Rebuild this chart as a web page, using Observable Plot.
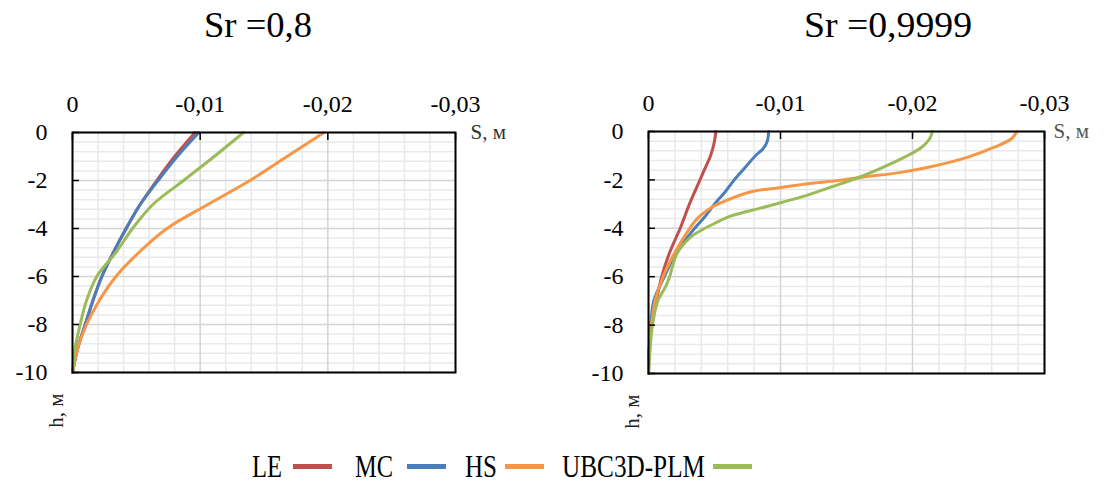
<!DOCTYPE html>
<html>
<head>
<meta charset="utf-8">
<script src="https://cdn.jsdelivr.net/npm/d3@7"></script>
<script src="https://cdn.jsdelivr.net/npm/@observablehq/plot@0.6"></script>
<style>
  html, body { margin:0; padding:0; background:#fff; }
  #page { position:relative; width:1112px; height:484px; overflow:hidden; font-family:'Liberation Serif','Times New Roman',Times,'DejaVu Serif',serif; color:#000; }
  .panel { position:absolute; top:80px; }
  #over { position:absolute; left:0; top:0; overflow:visible; }
  #over text { font-family:'Liberation Serif','Times New Roman',Times,'DejaVu Serif',serif; }
</style>
</head>
<body>
<div id="page">
  <div id="left" class="panel" style="left:0px"></div>
  <div id="right" class="panel" style="left:576px"></div>
  <svg id="over" width="1112" height="484"></svg>
</div>
<script>
// ---- Data ----
const models = ["LE", "MC", "HS", "UBC3D-PLM"];
const colors = ["#c0504d", "#4a7ebb", "#f79646", "#9bbb59"];
const titles = ["Sr =0,8", "Sr =0,9999"];

// Sr = 0,8  (depth h, м  →  settlement S, м)
const h08 = [0, -1, -2, -3, -4, -5, -6, -7, -8, -9, -10];
const LE_08  = [-0.0096, -0.0080, -0.0066, -0.0053, -0.0042, -0.0032, -0.0023, -0.0016, -0.0010, -0.0004, 0];
const MC_08  = [-0.0099, -0.0082, -0.0067, -0.0053, -0.0042, -0.0032, -0.0023, -0.0016, -0.0010, -0.0004, 0];
const HS_08  = [-0.0197, -0.0168, -0.0139, -0.0106, -0.0074, -0.0052, -0.0034, -0.0021, -0.0011, -0.0004, 0];
const UBC_08 = [-0.0134, -0.0111, -0.0087, -0.0063, -0.0047, -0.0034, -0.0019, -0.0011, -0.0006, -0.0002, 0];

// Sr = 0,9999
const hLE_1  = [0, -0.4, -1, -1.5, -2, -3, -4, -5, -6, -7, -8, -9, -10];
const LE_1   = [-0.0051, -0.0050, -0.0047, -0.0043, -0.0039, -0.0031, -0.0024, -0.0016, -0.0010, -0.0006, -0.00025, -0.00005, 0];
const hMC_1  = [0, -0.4, -0.7, -1, -1.5, -2, -2.5, -3, -3.5, -4, -5, -6, -7, -8, -9, -10];
const MC_1   = [-0.0091, -0.0090, -0.0087, -0.0081, -0.0073, -0.0065, -0.0058, -0.0050, -0.0043, -0.0035, -0.0021, -0.0012, -0.0004, -0.00017, -0.00005, 0];
const hHS_1  = [0, -0.3, -0.65, -1.06, -1.47, -1.7, -1.88, -2.02, -2.15, -2.3, -2.5, -2.85, -3.13, -3.54, -4.02, -5, -6, -7, -8, -9, -10];
const HS_1   = [-0.0279, -0.0275, -0.0262, -0.0242, -0.0213, -0.0190, -0.0163, -0.0145, -0.0122, -0.0102, -0.0077, -0.0059, -0.0048, -0.0038, -0.0031, -0.0020, -0.0011, -0.0005, -0.00022, -0.00007, 0];
const hUBC_1 = [0, -0.3, -0.65, -1.06, -1.47, -1.88, -2.3, -2.7, -3.12, -3.5, -3.8, -4.08, -4.36, -5, -5.6, -6, -6.4, -6.7, -7, -8, -9, -10];
const UBC_1  = [-0.0215, -0.0213, -0.0207, -0.0194, -0.0178, -0.0160, -0.0138, -0.0116, -0.0088, -0.0062, -0.0050, -0.0040, -0.0032, -0.0022, -0.0018, -0.0016, -0.0013, -0.0010, -0.0007, -0.0003, -0.00012, 0];

// Ticks
const majorX = [0, -0.01, -0.02, -0.03];
const majorY = [0, -2, -4, -6, -8, -10];
const minorX = [-0.002, -0.004, -0.006, -0.008, -0.012, -0.014, -0.016, -0.018, -0.022, -0.024, -0.026, -0.028];
const minorY = [-0.4, -0.8, -1.2, -1.6, -2.4, -2.8, -3.2, -3.6, -4.4, -4.8, -5.2, -5.6, -6.4, -6.8, -7.2, -7.6, -8.4, -8.8, -9.2, -9.6];
const xLabel = "S, м";
const yLabel = "h, м";

// ---- Build tables ----
function table(model, hs, ss) { return hs.map((h, i) => ({model, h, s: ss[i]})); }
const data08 = [
  ...table("LE", h08, LE_08), ...table("MC", h08, MC_08),
  ...table("HS", h08, HS_08), ...table("UBC3D-PLM", h08, UBC_08)
];
const data1 = [
  ...table("LE", hLE_1, LE_1), ...table("MC", hMC_1, MC_1),
  ...table("HS", hHS_1, HS_1), ...table("UBC3D-PLM", hUBC_1, UBC_1)
];

const fmtX = d => d === 0 ? "0" : d.toFixed(2).replace(".", ",");
const fmtY = d => String(d);
const FONT = "'Liberation Serif','Times New Roman',Times,'DejaVu Serif',serif";

function panel(data, o) {
  return Plot.plot({
    width: o.width, height: 340,
    marginLeft: 72, marginRight: o.marginRight, marginTop: o.marginTop, marginBottom: o.marginBottom,
    x: {domain: [0, -0.03]},
    y: {domain: [-10, 0]},
    color: {domain: models, range: colors},
    style: {fontFamily: FONT, fontSize: "24px", color: "#000", background: "transparent", overflow: "visible"},
    marks: [
      Plot.gridX(minorX, {stroke: "#e9e9e9", strokeOpacity: 1, strokeWidth: 1.5}),
      Plot.gridY(minorY, {stroke: "#e9e9e9", strokeOpacity: 1, strokeWidth: 1.5}),
      Plot.gridX(majorX, {stroke: "#d4d4d4", strokeOpacity: 1, strokeWidth: 1.5}),
      Plot.gridY(majorY, {stroke: "#d4d4d4", strokeOpacity: 1, strokeWidth: 1.5}),
      Plot.line(data, {x: "s", y: "h", z: "model", stroke: "model", strokeWidth: 3, curve: "catmull-rom"}),
      Plot.frame({stroke: "#000", strokeWidth: 2}),
      Plot.axisX(majorX, {anchor: "top", tickSize: -7, strokeWidth: 1.5, tickFormat: () => "", label: null}),
      Plot.axisX(majorX, {anchor: "top", tickSize: 0, tickPadding: 21, tickFormat: fmtX, label: null, fontSize: 24}),
      Plot.axisY(majorY, {anchor: "left", tickSize: -7, strokeWidth: 1.5, tickFormat: () => "", label: null}),
      Plot.axisY(majorY, {anchor: "left", tickSize: 0, tickPadding: 25, tickFormat: fmtY, label: null, fontSize: 24}),
      Plot.text([xLabel], {frameAnchor: "top-right", dx: o.xlabDx, textAnchor: "start", lineAnchor: "middle", fontSize: 21, fill: o.xlabColor}),
      Plot.text([yLabel], {frameAnchor: "bottom-left", dx: -16, dy: 38, rotate: -90, textAnchor: "middle", lineAnchor: "middle", fontSize: 21, fill: "#222"})
    ]
  });
}

document.getElementById("left").append(panel(data08, {width: 520, marginRight: 65, marginTop: 52, marginBottom: 48, xlabDx: 15, xlabColor: "#333"}));
document.getElementById("right").append(panel(data1, {width: 536, marginRight: 68, marginTop: 51, marginBottom: 47, xlabDx: 9, xlabColor: "#555"}));

// ---- Titles and legend (SVG overlay) ----
const over = d3.select("#over");
const titleX = [258, 888];
const titleW = [108, 168];
titles.forEach((t, i) => {
  over.append("text").attr("x", titleX[i]).attr("y", 37).attr("text-anchor", "middle")
    .attr("font-size", 35).attr("textLength", titleW[i]).attr("lengthAdjust", "spacingAndGlyphs").text(t);
});
const legTextX = [252, 355, 465, 562];
const legTextW = [30, 38, 32, 143];
const legSwX = [293, 407, 505, 713];
models.forEach((m, i) => {
  over.append("text").attr("x", legTextX[i]).attr("y", 477).attr("font-size", 31)
    .attr("textLength", legTextW[i]).attr("lengthAdjust", "spacingAndGlyphs").text(m);
  over.append("line").attr("x1", legSwX[i]).attr("x2", legSwX[i] + 39).attr("y1", 466.5).attr("y2", 466.5)
    .attr("stroke", colors[i]).attr("stroke-width", 5);
});
</script>
</body>
</html>
